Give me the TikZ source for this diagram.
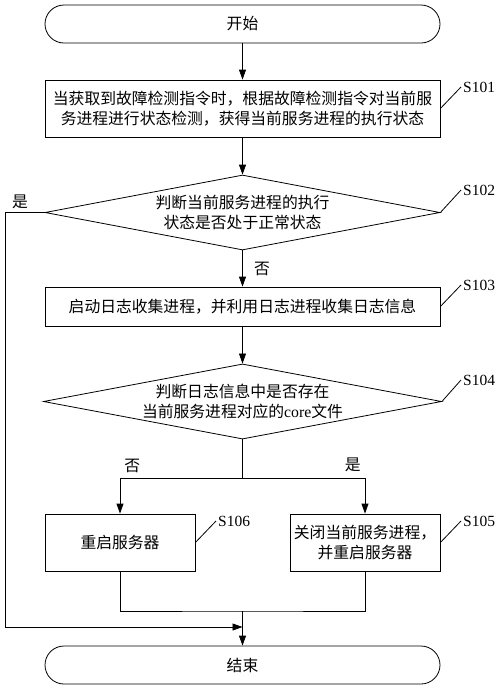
\documentclass[tikz,border=0pt]{standalone}
\usepackage{fontspec}
\setmainfont{Liberation Serif}
\newfontfamily\cjk{Noto Sans CJK SC}
\usetikzlibrary{arrows.meta,shapes.geometric}

\begin{document}
\begin{tikzpicture}[x=1pt,y=-1pt]
\tikzstyle{term} = [rectangle, draw, thick, rounded corners=19pt,
minimum width=395pt, minimum height=38pt, font=\cjk\fontsize{15.8}{20}\selectfont]
\tikzstyle{block} = [rectangle, draw, thick, minimum width=395pt,
align=center, inner sep=2pt, font=\cjk\fontsize{15.8}{20}\selectfont]
\tikzstyle{block_small} = [rectangle, draw, thick, minimum width=150pt,
minimum height=57pt, align=center, inner sep=2pt, font=\cjk\fontsize{15.8}{20}\selectfont]
\tikzstyle{decision} = [diamond, draw, thick, aspect=5.3, minimum width=395pt,
minimum height=75pt, inner sep=1pt, align=center, font=\cjk\fontsize{15.8}{20}\selectfont]
\tikzstyle{tag} = [anchor=west, inner sep=2pt, font=\fontsize{15.5}{18}\selectfont]
\tikzstyle{answer} = [font=\cjk\fontsize{15.8}{18}\selectfont]
\tikzstyle{line} = [draw, thick, -{Triangle[length=10pt,width=7pt]}]
\tikzstyle{leader} = [draw, thick]
\useasboundingbox (0,0) rectangle (500,689);
% main column
\node [term] (start) at (242.5,24) {开始};
\node [block, minimum height=57pt] (s101) at (242.5,108.5)
{当获取到故障检测指令时，根据故障检测指令对当前服\\务进程进行状态检测，获得当前服务进程的执行状态};
\node [decision] (q1) at (242.5,212.5) {判断当前服务进程的执行\\状态是否处于正常状态};
\node [block, minimum height=39pt] (s103) at (242.5,306.5)
{启动日志收集进程，并利用日志进程收集日志信息};
\node [decision] (q2) at (242.5,401.5)
{判断日志信息中是否存在\\当前服务进程对应的{\rmfamily core}文件};
% two branches
\node [block_small] (s106) at (120,542.5) {重启服务器};
\node [block_small] (s105) at (365,542.5) {关闭当前服务进程，\\并重启服务器};
\node [term] (stop) at (242.5,665) {结束};
% step numbers
\node [tag] (t101) at (461,87) {S101};
\node [tag] (t102) at (461,190) {S102};
\node [tag] (t103) at (461,285) {S103};
\node [tag] (t104) at (461,380) {S104};
\node [tag] (t106) at (216,521) {S106};
\node [tag] (t105) at (461,521) {S105};
\path [leader] (s101.east) -- (t101.west);
\path [leader] (q1.east) -- (t102.west);
\path [leader] (s103.east) -- (t103.west);
\path [leader] (q2.east) -- (t104.west);
\path [leader] (s106.east) -- (t106.west);
\path [leader] (s105.east) -- (t105.west);
% helper points
\coordinate (split) at (242.5,478);
\coordinate (join) at (242.5,611);
\coordinate (bypass) at (5,627);
\coordinate (merge) at (242.5,627);
% connectors
\path [line] (start) -- (s101);
\path [line] (s101) -- (q1);
\path [line] (q1) -- node [answer, midway, right=8pt] {否} (s103);
\path [line] (s103) -- (q2);
\path [leader] (q2.south) -- (split);
\path [line] (split) -| node [answer, pos=0.45, above=2pt] {否} (s106.north);
\path [line] (split) -| node [answer, pos=0.45, above=2pt] {是} (s105.north);
\path [leader] (s106.south) |- (join) -| (s105.south);
\path [line] (join) -- (stop.north);
\path [line] (q1.west) -| node [answer, pos=0.31, above] {是} (bypass) -- (merge);
\end{tikzpicture}
\end{document}
